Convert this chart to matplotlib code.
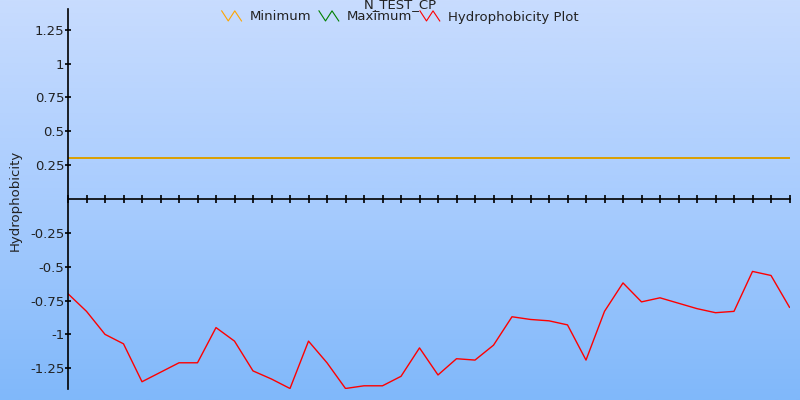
import numpy as np
import matplotlib
matplotlib.use("Agg")
import matplotlib.pyplot as plt
from matplotlib.colors import LinearSegmentedColormap
from matplotlib.lines import Line2D
from matplotlib.legend_handler import HandlerBase

title = "N_TEST_CP"
y_label = "Hydrophobicity"
series_names = ["Minimum", "Maximum", "Hydrophobicity Plot"]
series_colors = ["#ffa500", "#008000", "#ff0000"]

positions = list(range(40))
hydrophobicity = [-0.70, -0.83, -1.00, -1.07, -1.35, -1.28, -1.21, -1.21, -0.95, -1.05,
                  -1.27, -1.33, -1.40, -1.05, -1.21, -1.40, -1.38, -1.38, -1.31, -1.10,
                  -1.30, -1.18, -1.19, -1.08, -0.87, -0.89, -0.90, -0.93, -1.19, -0.83,
                  -0.62, -0.76, -0.73, -0.77, -0.81, -0.84, -0.83, -0.535, -0.565, -0.80]
minimum_value = 0.30
maximum_value = 0.30
y_ticks = [-1.25, -1, -0.75, -0.5, -0.25, 0.25, 0.5, 0.75, 1, 1.25]
y_tick_labels = ["-1.25", "-1", "-0.75", "-0.5", "-0.25", "0.25", "0.5", "0.75", "1", "1.25"]

fig = plt.figure(figsize=(8, 4), dpi=100)

# gradient background
bg = fig.add_axes([0, 0, 1, 1], zorder=-10)
cmap = LinearSegmentedColormap.from_list("bg", ["#c8dcfe", "#a8ccfe", "#80b8fa"])
bg.imshow(np.linspace(0, 1, 256).reshape(-1, 1), aspect="auto", cmap=cmap,
          extent=[0, 1, 0, 1])
bg.set_axis_off()

ax = fig.add_axes([68 / 800, 1 - 388.5 / 400, (789.5 - 68) / 800, (388.5 - 9.5) / 400])
ax.patch.set_alpha(0)

ax.plot(positions, [maximum_value] * len(positions), color=series_colors[1], lw=1.2)
ax.plot(positions, [minimum_value] * len(positions), color=series_colors[0], lw=1.2)
ax.plot(positions, hydrophobicity, color=series_colors[2], lw=1.0)

ax.set_xlim(0, 39)
ax.set_ylim(-1.4, 1.4)

for s in ["top", "right"]:
    ax.spines[s].set_visible(False)
ax.spines["bottom"].set_position(("data", 0))
ax.spines["left"].set_linewidth(1.2)
ax.spines["bottom"].set_linewidth(1.2)
ax.set_xticks(positions)
ax.set_xticklabels([])
ax.tick_params(axis="x", direction="inout", length=6, width=1.2)
ax.set_yticks(y_ticks)
ax.set_yticklabels(y_tick_labels)
ax.tick_params(axis="y", direction="inout", length=5, width=1.2, labelsize=9.5, pad=0,
               labelcolor="#222222")

fig.text(15 / 800, 0.5, y_label, rotation=90, ha="center", va="center", fontsize=9.5,
         color="#222222")
fig.text(0.5, 1 - 5 / 400, title, ha="center", va="center", fontsize=9.5, color="#222222")


class ZigZag(HandlerBase):
    def create_artists(self, legend, orig_handle, xdescent, ydescent, width, height,
                       fontsize, trans):
        xs = np.array([0, 0.33, 0.66, 1.0]) * width - xdescent
        ys = np.array([1.0, 0.0, 1.0, 0.0]) * height - ydescent
        l = Line2D(xs, ys, color=orig_handle.get_color(), lw=0.8, transform=trans)
        return [l]


handles = [Line2D([], [], color=c) for c in series_colors]
leg = fig.legend(handles, series_names, loc="center", bbox_to_anchor=(0.5, 1 - 17 / 400),
                 ncol=3, frameon=False, fontsize=9.5, handler_map={Line2D: ZigZag()},
                 handlelength=1.5, handleheight=0.8, handletextpad=0.6, columnspacing=0.6)
for t in leg.get_texts():
    t.set_color("#222222")

fig.savefig("out.png", dpi=100)
